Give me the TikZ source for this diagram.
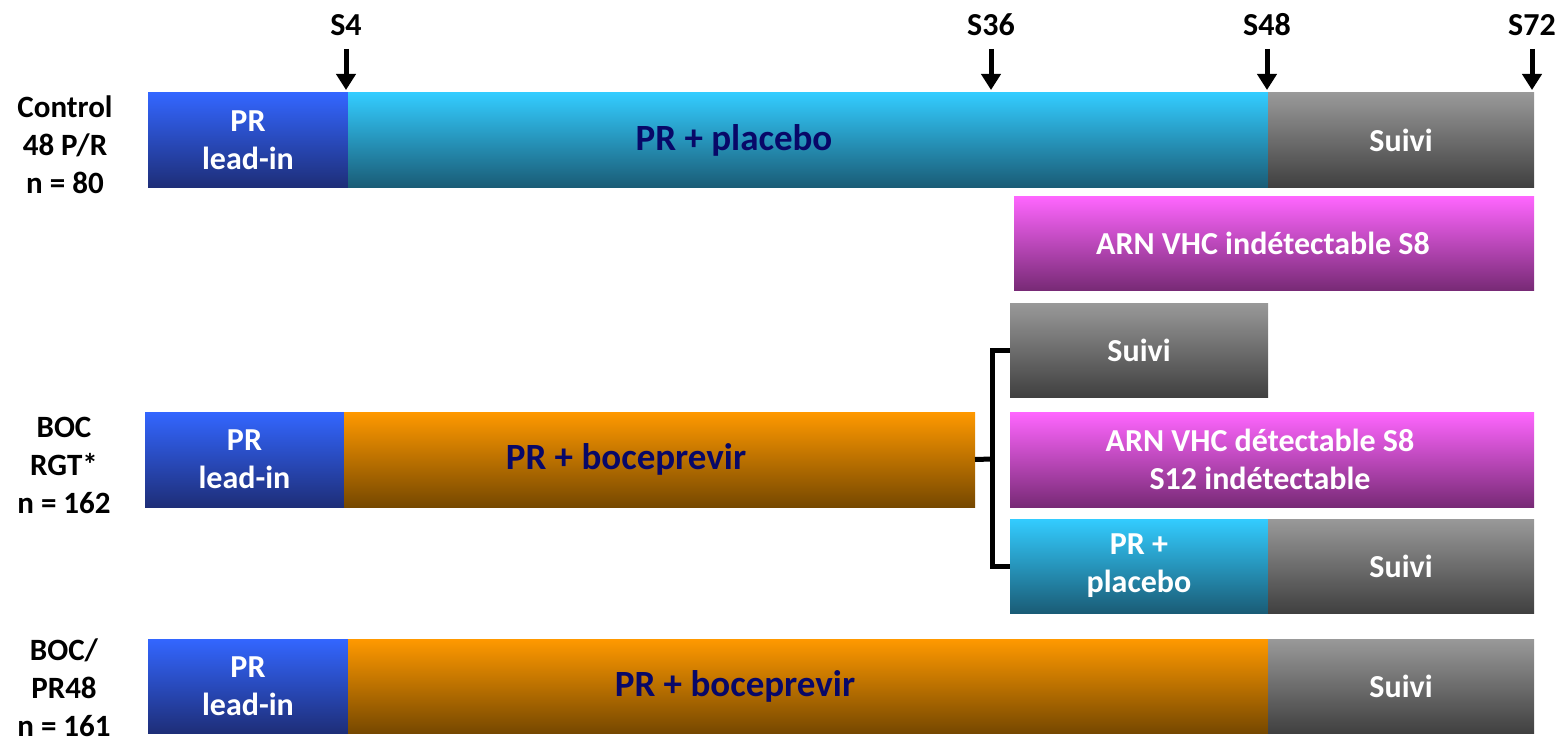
\documentclass[tikz,border=0pt]{standalone}
\usepackage{fontspec}
\setmainfont{Carlito}
\usetikzlibrary{arrows.meta}
\definecolor{navytxt}{RGB}{8,8,104}
\definecolor{bluetop}{RGB}{51,102,255}
\definecolor{bluebot}{RGB}{30,46,120}
\definecolor{cyantop}{RGB}{51,204,255}
\definecolor{cyanbot}{RGB}{26,92,118}
\definecolor{graytop}{RGB}{153,153,153}
\definecolor{graybot}{RGB}{64,64,64}
\definecolor{magtop}{RGB}{255,102,255}
\definecolor{magbot}{RGB}{120,42,118}
\definecolor{orgtop}{RGB}{255,153,0}
\definecolor{orgbot}{RGB}{118,72,0}
\tikzset{
  bar/.style={anchor=north west, inner sep=0pt, outer sep=0pt, align=center,
    font=\bfseries\fontsize{32}{38}\selectfont, text=white},
  leadbar/.style={bar, top color=bluetop, bottom color=bluebot},
  cyanbar/.style={bar, top color=cyantop, bottom color=cyanbot},
  graybar/.style={bar, top color=graytop, bottom color=graybot},
  magbar/.style={bar, top color=magtop, bottom color=magbot},
  orgbar/.style={bar, top color=orgtop, bottom color=orgbot},
  bigtxt/.style={text=navytxt, inner sep=0pt, font=\bfseries\fontsize{37}{42}\selectfont},
  whitetxt/.style={text=white, inner sep=0pt, align=center, font=\bfseries\fontsize{32}{38}\selectfont},
  armlabel/.style={align=center, font=\bfseries\fontsize{31}{38}\selectfont, inner sep=0pt},
  ticklabel/.style={font=\bfseries\fontsize{32}{36}\selectfont, inner sep=0pt},
  tickarrow/.style={line width=5pt, -{Triangle[width=19pt,length=16pt]}},
  bracket/.style={line width=5pt},
}
\begin{document}
\begin{tikzpicture}[x=1pt,y=-1pt]
\useasboundingbox (0,0) rectangle (1563,741);
% row 1
\node[leadbar, minimum width=200pt, minimum height=94pt] (c1lead) at (148,93) {PR\\lead-in};
\node[cyanbar, minimum width=920pt, minimum height=94pt] (c1pr) at (348,93) {};
\node[bigtxt] (c1prtxt) at (734,140) {PR + placebo};
\node[graybar, minimum width=266pt, minimum height=94pt] (c1suivi) at (1268,93) {Suivi};
% magenta 1
\node[magbar, minimum width=520pt, minimum height=94pt] (m1) at (1014,196) {};
\node[whitetxt] (m1txt) at (1263,243) {ARN VHC indétectable S8};
% row 2
\node[graybar, minimum width=258pt, minimum height=94pt] (r2suivi) at (1010,303) {Suivi};
\node[leadbar, minimum width=199pt, minimum height=95pt] (r2lead) at (145,412) {PR\\lead-in};
\node[orgbar, minimum width=631pt, minimum height=95pt] (r2boc) at (344,412) {};
\node[bigtxt] (r2boctxt) at (626,459) {PR + boceprevir};
\node[magbar, minimum width=524pt, minimum height=95pt] (m2) at (1010,412) {};
\node[whitetxt] (m2txt) at (1260,459) {ARN VHC détectable S8\\S12 indétectable};
\node[cyanbar, minimum width=258pt, minimum height=94pt] (r2pr) at (1010,519) {PR +\\placebo};
\node[graybar, minimum width=266pt, minimum height=94pt] (r2suivib) at (1268,519) {Suivi};
% row 3
\node[leadbar, minimum width=200pt, minimum height=94pt] (r3lead) at (148,639) {PR\\lead-in};
\node[orgbar, minimum width=920pt, minimum height=94pt] (r3boc) at (348,639) {};
\node[bigtxt] (r3boctxt) at (735,686) {PR + boceprevir};
\node[graybar, minimum width=266pt, minimum height=94pt] (r3suivi) at (1268,639) {Suivi};
% arm labels
\node[armlabel] (lab1) at (65,145) {Control\\48 P/R\\n = 80};
\node[armlabel] (lab2) at (64,465) {BOC\\RGT*\\n = 162};
\node[armlabel] (lab3) at (64,688) {BOC/\\PR48\\n = 161};
% ticks
\node[ticklabel] (t4) at (346,25) {S4};
\node[ticklabel] (t36) at (991,25) {S36};
\node[ticklabel] (t48) at (1267,25) {S48};
\node[ticklabel] (t72) at (1532,25) {S72};
\coordinate (a4) at (346,90);
\coordinate (a36) at (991,90);
\coordinate (a48) at (1267,90);
\coordinate (a72) at (1532,90);
\coordinate (s4) at (346,49);
\coordinate (s36) at (991,49);
\coordinate (s48) at (1267,49);
\coordinate (s72) at (1532,49);
\draw[tickarrow] (s4) -- (a4);
\draw[tickarrow] (s36) -- (a36);
\draw[tickarrow] (s48) -- (a48);
\draw[tickarrow] (s72) -- (a72);
% bracket
\coordinate (bx) at (992,459);
\draw[bracket] (r2boc.east) -- (bx);
\draw[bracket] (r2suivi.west) -- ++(-18,0) |- (r2pr.west);
\end{tikzpicture}
\end{document}
